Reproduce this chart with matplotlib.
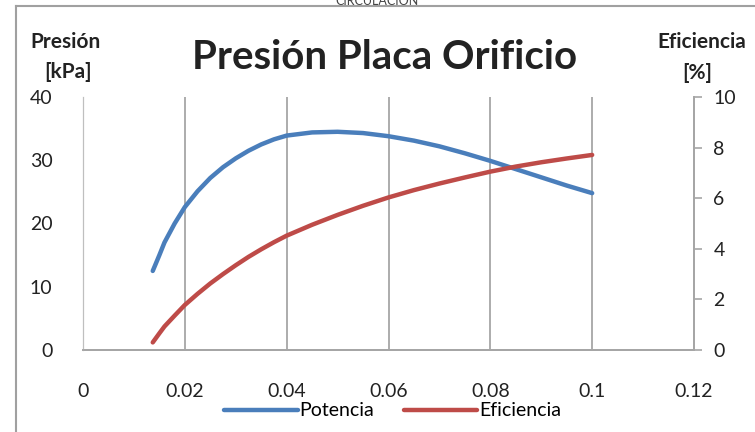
import numpy as np
import matplotlib.pyplot as plt
from matplotlib.lines import Line2D

plt.rcParams['font.family'] = ['Lato', 'DejaVu Sans']

# values
caudal = [0.0137, 0.015, 0.016, 0.018, 0.02, 0.0225, 0.025, 0.0275, 0.03, 0.0325,
          0.035, 0.0375, 0.04, 0.045, 0.05, 0.055, 0.06, 0.065, 0.07, 0.075,
          0.08, 0.085, 0.09, 0.095, 0.1]
potencia = [12.5, 15.0, 17.0, 20.0, 22.6, 25.1, 27.2, 28.9, 30.3, 31.5,
            32.5, 33.3, 33.9, 34.4, 34.5, 34.3, 33.8, 33.1, 32.2, 31.1,
            29.9, 28.6, 27.3, 26.0, 24.8]
eficiencia = [0.30, 0.66, 0.93, 1.36, 1.78, 2.22, 2.63, 3.0, 3.35, 3.68,
              3.98, 4.26, 4.52, 4.95, 5.34, 5.70, 6.03, 6.32, 6.58, 6.82,
              7.05, 7.25, 7.42, 7.57, 7.71]

xticks = [0, 0.02, 0.04, 0.06, 0.08, 0.1, 0.12]
xlabels = ['0', '0.02', '0.04', '0.06', '0.08', '0.1', '0.12']

fig = plt.figure(figsize=(7.55, 4.32), dpi=100)
ax = fig.add_axes([83/755, 1-350/432, (694-83)/755, (350-97)/432])
ax2 = ax.twinx()

blue = '#4a7ebb'
red = '#be4b48'
grey = '#a6a6a6'

l1, = ax.plot(caudal, potencia, color=blue, lw=3.2, solid_capstyle='round',
              solid_joinstyle='round')
l2, = ax2.plot(caudal, eficiencia, color=red, lw=3.2, solid_capstyle='round',
               solid_joinstyle='round')

ax.set_xlim(0, 0.12)
ax.set_ylim(0, 40)
ax2.set_ylim(0, 10)
ax.set_xticks(xticks)
ax.set_xticklabels(xlabels)
ax.set_yticks([0, 10, 20, 30, 40])
ax2.set_yticks([0, 2, 4, 6, 8, 10])

for x in xticks[1:-1]:
    ax.axvline(x, color=grey, lw=1.3, zorder=0)

for a in (ax, ax2):
    a.spines['top'].set_visible(False)
    a.spines['left'].set_color('#bfbfbf')
    a.spines['right'].set_color(grey)
    a.spines['bottom'].set_color(grey)
    a.spines['right'].set_linewidth(1.3)
    a.spines['bottom'].set_linewidth(1.3)

ax.tick_params(axis='x', length=0, pad=24, labelsize=14, colors='#222222')
ax.tick_params(axis='y', length=0, pad=22, labelsize=14, colors='#222222')
ax2.tick_params(axis='y', length=6, width=1.2, color=grey, pad=8,
                labelsize=14, labelcolor='#222222')

fig.text(0.51, 0.868, 'Presión Placa Orificio', ha='center', va='center',
         fontsize=29, fontweight='bold', color='#222222')
fig.text(65/755, 1-42/432, 'Presión', ha='center', va='center',
         fontsize=15, fontweight='bold', color='#222222')
fig.text(68/755, 1-72/432, '[kPa]', ha='center', va='center',
         fontsize=15, fontweight='bold', color='#222222')
fig.text(702/755, 1-42/432, 'Eficiencia', ha='center', va='center',
         fontsize=15, fontweight='bold', color='#222222')
fig.text(697/755, 1-73/432, '[%]', ha='center', va='center',
         fontsize=15, fontweight='bold', color='#222222')
fig.text(0.5, 0.998, 'CIRCULACIÓN', ha='center', va='center',
         fontsize=9, color='#444444')

fig.legend([l1, l2], ['Potencia', 'Eficiencia'], loc='center',
           bbox_to_anchor=(0.52, 1-411/432), ncol=2, frameon=False,
           fontsize=14, handlelength=3.8, handletextpad=0.1, columnspacing=1.5)

fig.add_artist(Line2D([16/755, 16/755], [0, 1-6/432], color='#a0a0a0', lw=1.5))
fig.add_artist(Line2D([16/755, 1], [1-6/432, 1-6/432], color='#a0a0a0', lw=1.5))

fig.savefig('out.png', dpi=100)
